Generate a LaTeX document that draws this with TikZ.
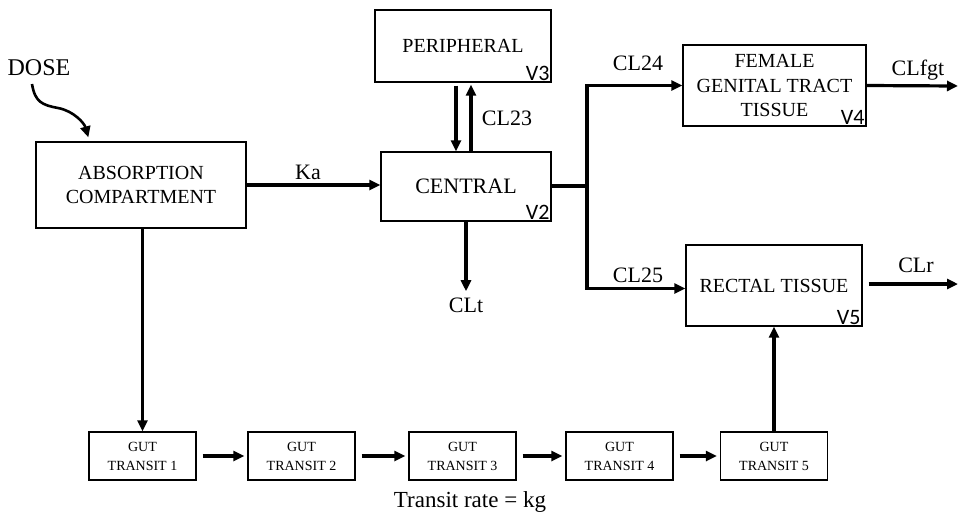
\documentclass[tikz,border=0pt]{standalone}
\usepackage{fontspec}
\setmainfont{Liberation Serif}
\newfontfamily\vfont{Carlito}
\usetikzlibrary{arrows.meta,calc}
\begin{document}
\begin{tikzpicture}[x=1pt,y=-1pt,
 box/.style={draw, line width=1.3pt, align=center, inner sep=0pt, font=\fontsize{20}{24.5}\selectfont},
 gut/.style={draw, line width=1.3pt, align=center, minimum width=107pt, minimum height=48pt, inner sep=0pt, font=\fontsize{14}{19}\selectfont},
 arr/.style={line width=3.2pt, -{Triangle[length=11pt,width=10pt]}},
 ln/.style={line width=3.2pt},
 lbl/.style={font=\fontsize{22}{26}\selectfont, anchor=base, inner sep=0pt},
 vol/.style={font=\vfont\fontsize{22}{24}\selectfont, anchor=south east, inner sep=2pt}]
\useasboundingbox (0,0) rectangle (959,515);
% boxes
\node[box, minimum width=210pt, minimum height=86pt] (abs) at (141,185) {ABSORPTION\\COMPARTMENT};
\node[box, minimum width=176pt, minimum height=72pt] (per) at (463,46) {PERIPHERAL};
\node[box, minimum width=170pt, minimum height=69pt, font=\fontsize{22}{26}\selectfont] (cen) at (466,186.5) {CENTRAL};
\node[box, minimum width=183pt, minimum height=81pt] (fgt) at (774.5,85.5) {FEMALE\\GENITAL TRACT\\TISSUE};
\node[box, minimum width=176pt, minimum height=81pt] (rec) at (774,285.5) {RECTAL TISSUE};
\node[vol] (v3) at (per.south east) {V3};
\node[vol] (v2) at (cen.south east) {V2};
\node[vol] (v4) at (fgt.south east) {V4};
\node[vol] (v5) at (rec.south east) {V5};
% gut transit
\node[gut] (g1) at (142.5,456) {GUT\\TRANSIT 1};
\node[gut] (g2) at (301.5,456) {GUT\\TRANSIT 2};
\node[gut] (g3) at (462.5,456) {GUT\\TRANSIT 3};
\node[gut] (g4) at (619.5,456) {GUT\\TRANSIT 4};
\node[gut] (g5) at (774,456) {GUT\\TRANSIT 5};
% labels
\node[lbl, font=\fontsize{24}{28}\selectfont] (dose) at (39,75) {DOSE};
\node[lbl] (ka) at (308,179) {Ka};
\node[lbl] (cl23) at (507,125) {CL23};
\node[lbl] (clt) at (466,312) {CLt};
\node[lbl] (cl24) at (638,70) {CL24};
\node[lbl] (clfgt) at (918,75) {CLfgt};
\node[lbl] (cl25) at (638,282) {CL25};
\node[lbl] (clr) at (916,272) {CLr};
\node[lbl, font=\fontsize{23}{28}\selectfont] (rate) at (470,507) {Transit rate = kg};
% coordinates
\coordinate (br) at (587,186);
\coordinate (fout) at (958,86);
\coordinate (rout) at (958,284);
\coordinate (dosein) at ($(abs.north west)+(53,-4)$);
\coordinate (dosemid) at (58,108);
% connectors
\draw[line width=2.6pt, -{Triangle[length=11pt,width=10pt]}] ([xshift=-7pt,yshift=-9pt]dose.base) .. controls +(3,18) and +(-16,-3) .. (dosemid) .. controls +(16,3) and +(-4,-14) .. (dosein);
\draw[arr] (abs.east) -- (abs.east -| cen.west);
\draw[arr, shorten <=3pt] ([xshift=-7pt]per.south) -- ([xshift=-7pt]per.south |- cen.north);
\draw[arr, shorten >=2pt] ([xshift=8pt]per.south |- cen.north) -- ([xshift=8pt]per.south);
\draw[arr] (cen.south) -- ([yshift=6pt]clt.north);
\draw[ln] (cen.east |- br) -- (br);
\draw[arr] (br) |- (fgt.west);
\draw[arr] (br) |- ([yshift=-3pt]rec.west);
\draw[arr] (fgt.east) -- (fout);
\draw[arr] ([xshift=6pt]rec.east |- rout) -- (rout);
\draw[arr] (abs.south -| g1.north) -- (g1.north);
\draw[arr, shorten <=6pt, shorten >=3pt] (g1.east) -- (g2.west);
\draw[arr, shorten <=6pt, shorten >=3pt] (g2.east) -- (g3.west);
\draw[arr, shorten <=6pt, shorten >=3pt] (g3.east) -- (g4.west);
\draw[arr, shorten <=6pt, shorten >=3pt] (g4.east) -- (g5.west);
\draw[arr] (g5.north) -- (rec.south);
\end{tikzpicture}
\end{document}
